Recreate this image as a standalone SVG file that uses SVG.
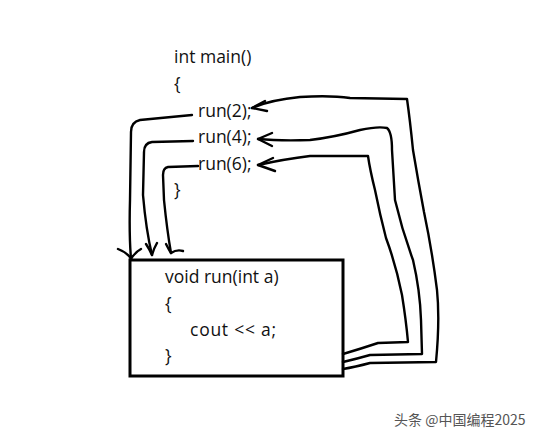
<svg xmlns="http://www.w3.org/2000/svg" width="540" height="439" viewBox="0 0 540 439">
<style>
.code{font-family:"Open Sans","Noto Sans","DejaVu Sans",sans-serif;font-size:17.5px;fill:#111}
.ln{fill:none;stroke:#000;stroke-width:2.4;stroke-linecap:round;stroke-linejoin:round}
.wm{font-family:"Noto Sans CJK SC","Noto Sans",sans-serif;font-size:14px;fill:#555}
</style>
<rect width="540" height="439" fill="#fff"/>
<g id="main">
<text class="code" x="174" y="63">int main()</text>
<text class="code" x="174" y="90">{</text>
<text class="code" x="198" y="117">run(2);</text>
<text class="code" x="198" y="143">run(4);</text>
<text class="code" x="198" y="170">run(6);</text>
<text class="code" x="174" y="196">}</text>
</g>
<g id="run">
<rect x="130" y="260" width="213" height="116" fill="none" stroke="#000" stroke-width="3"/>
<text class="code" x="165" y="283">void run(int a)</text>
<text class="code" x="165" y="310">{</text>
<text class="code" x="190" y="336" textLength="86">cout &lt;&lt; a;</text>
<text class="code" x="165" y="362">}</text>
</g>
<g id="connectors">
<path class="ln" d="M192,115 L140,120 Q131,122 131,132 L130,200 Q129,235 131,259"/>
<path class="ln" d="M118,249 Q128,253 131,259 Q135,252 141,249"/>
<path class="ln" d="M193,141 L152,142 Q144,143 144,152 L143,195 Q146,230 152,255"/>
<path class="ln" d="M146,244 Q150,250 152,255 Q154,248 157,243"/>
<path class="ln" d="M198,166 L168,167 Q163,168 163,175 L164,200 Q167,230 171,253"/>
<path class="ln" d="M166,244 Q169,250 171,253 Q177,249 183,251"/>
<path class="ln" d="M252,108 Q270,100 300,97 Q330,95 350,98 L407,99 Q410,120 413,150 Q418,180 424,212 Q432,250 437,290 Q440,320 436,362 L370,363 Q355,367 343,369"/>
<path class="ln" d="M252,108 L265,101 M252,108 L267,111"/>
<path class="ln" d="M258,139 Q280,141 310,140 Q335,137 360,130 Q378,126 387,128 Q392,132 392,150 L395,200 Q402,230 413,260 Q420,290 421,320 L422,354 L370,355 Q356,359 343,362"/>
<path class="ln" d="M258,139 L272,133 M258,139 L272,146"/>
<path class="ln" d="M258,165 Q285,159 310,156 L368,156 Q370,170 375,190 Q380,215 386,238 Q396,265 402,295 Q406,320 408,342 L378,343 Q360,349 343,354"/>
<path class="ln" d="M258,165 L273,158 M258,165 L275,171"/>
</g>
<text class="wm" x="394" y="425">头条 @中国编程2025</text>
</svg>
